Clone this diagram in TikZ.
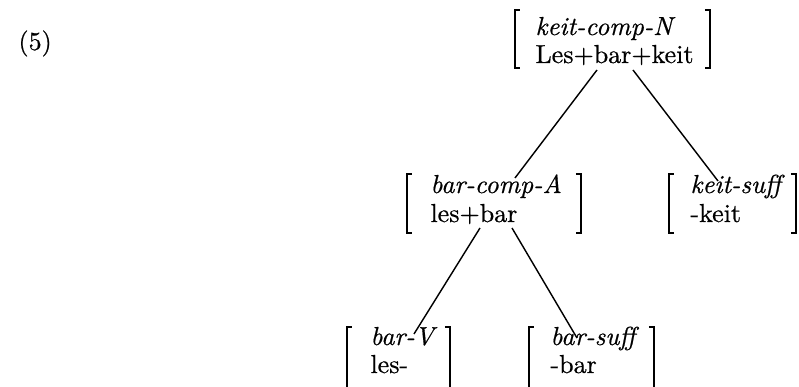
\documentclass[tikz,border=0pt]{standalone}
\usepackage{fontspec}
\setmainfont{Latin Modern Roman}[UprightFeatures={FakeBold=0.6},ItalicFeatures={FakeBold=0.6}]
\begin{document}
\begin{tikzpicture}[x=0.3846pt,y=-0.3846pt,
  conn/.style={line width=0.55pt},
  brk/.style={line width=0.9pt, line join=miter},
  lbl/.style={anchor=base west, inner sep=0pt, font=\fontsize{10}{12}\selectfont}]
\useasboundingbox (0,0) rectangle (799,387);
\fill[white] (0,0) rectangle (799,387);

% example number
\node[lbl] (ex) at (18,50) {(5)};

% top: keit-comp-N
\node[lbl] (topA) at (535,35) {\textit{keit-comp-N}};
\node[lbl] (topB) at (535,63) {Les+bar+keit};
\draw[brk] (520,10) -- (515,10) -- (515,68) -- (520,68);
\draw[brk] (705,10) -- (710,10) -- (710,68) -- (705,68);

% middle: bar-comp-A
\node[lbl] (midA) at (430,193) {\textit{bar-comp-A}};
\node[lbl] (midB) at (430,222) {les+bar};
\draw[brk] (412,174) -- (407,174) -- (407,233) -- (412,233);
\draw[brk] (576,174) -- (581,174) -- (581,233) -- (576,233);

% right: keit-suff
\node[lbl] (ksA) at (690,193) {\textit{keit-suff}};
\node[lbl] (ksB) at (690,222) {-keit};
\draw[brk] (674,174) -- (669,174) -- (669,233) -- (674,233);
\draw[brk] (791,174) -- (796,174) -- (796,233) -- (791,233);

% bottom left: bar-V
\node[lbl] (bvA) at (370,345) {\textit{bar-V}};
\node[lbl] (bvB) at (370,373) {les-};
\draw[brk] (352,327) -- (347,327) -- (347,395);
\draw[brk] (445,327) -- (450,327) -- (450,395);

% bottom right: bar-suff
\node[lbl] (bsA) at (550,345) {\textit{bar-suff}};
\node[lbl] (bsB) at (550,373) {-bar};
\draw[brk] (534,327) -- (529,327) -- (529,395);
\draw[brk] (649,327) -- (654,327) -- (654,395);

% connector ends
\coordinate (topDL) at (597,70);
\coordinate (topDR) at (633,70);
\coordinate (midUp) at (515,178);
\coordinate (ksUp) at (718,181);
\coordinate (midDL) at (480,228);
\coordinate (midDR) at (512,228);
\coordinate (bvUp) at (414,334);
\coordinate (bsUp) at (577,338);

\draw[conn] (topDL) -- (midUp);
\draw[conn] (topDR) -- (ksUp);
\draw[conn] (midDL) -- (bvUp);
\draw[conn] (midDR) -- (bsUp);
\end{tikzpicture}
\end{document}
